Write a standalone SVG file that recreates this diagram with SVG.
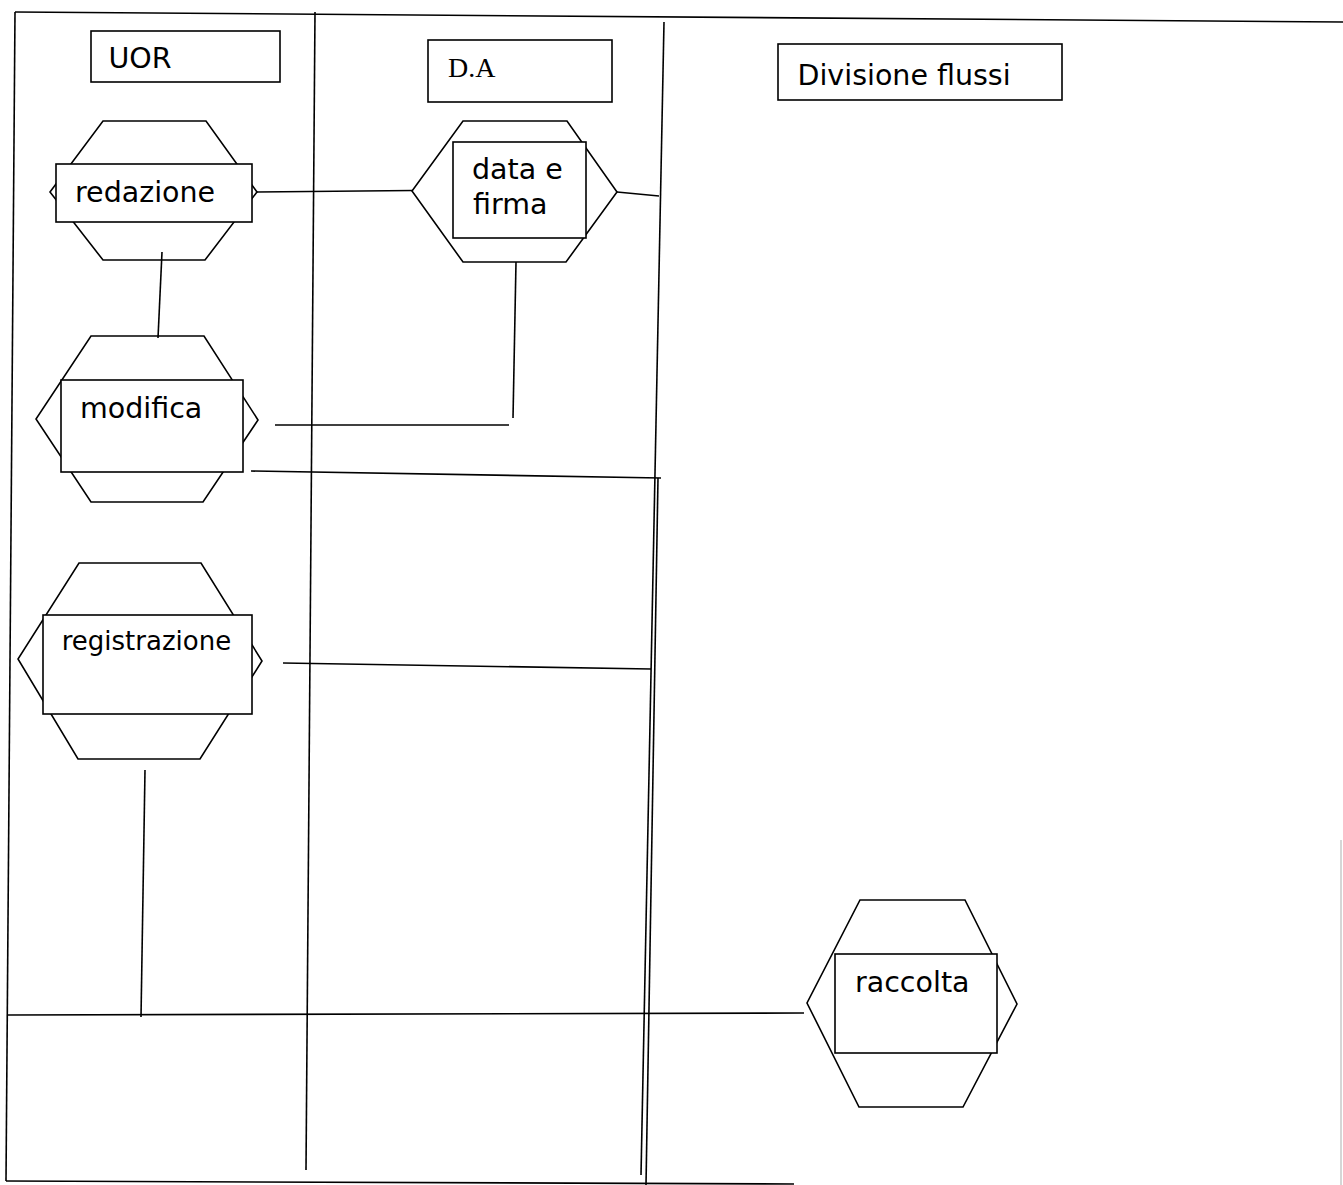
<svg xmlns="http://www.w3.org/2000/svg" width="1343" height="1185" viewBox="0 0 1343 1185">
<style>
  line, polyline { stroke: #000; stroke-width: 1.6; fill: none; }
  .hex { stroke: #000; stroke-width: 1.6; fill: #fff; }
  .box { stroke: #000; stroke-width: 1.6; fill: #fff; }
  .lbl { font-family: "DejaVu Sans", Verdana, sans-serif; font-size: 28.5px; fill: #000; }
  .ser { font-family: "Liberation Serif", "Times New Roman", serif; font-size: 28px; fill: #000; }
</style>
<rect width="1343" height="1185" fill="#fff"/>
<g id="lanes">
  <line x1="15" y1="12" x2="1343" y2="22"/>
  <line x1="15" y1="12" x2="6" y2="1181"/>
  <line x1="6" y1="1181" x2="794" y2="1184"/>
  <line x1="1341" y1="840" x2="1341" y2="1185" style="stroke:#bbb;stroke-width:1.2"/>
  <line x1="315" y1="12" x2="306" y2="1170"/>
  <line x1="664" y1="22" x2="641" y2="1175"/>
  <line x1="658" y1="478" x2="646" y2="1185"/>
  <rect class="box" x="91" y="31" width="189" height="51"/>
  <text class="lbl" x="108.5" y="68.3">UOR</text>
  <rect class="box" x="428" y="40" width="184" height="62"/>
  <text class="ser" x="448" y="77.3">D.A</text>
  <rect class="box" x="778" y="44" width="284" height="56"/>
  <text class="lbl" x="797.5" y="85">Divisione flussi</text>
</g>
<g id="node-redazione">
  <polygon class="hex" points="103,121 206,121 257,192 205,260 103,260 50,192"/>
  <rect class="box" x="56" y="164" width="196" height="58"/>
  <text class="lbl" x="75" y="202.3">redazione</text>
</g>
<g id="node-data-firma">
  <polygon class="hex" points="463,121 567,121 617,192 566,262 463,262 412,191"/>
  <rect class="box" x="453" y="142" width="133" height="96"/>
  <text class="lbl" x="472" y="179.3">data e</text>
  <text class="lbl" x="473" y="214.3">firma</text>
</g>
<g id="node-modifica">
  <polygon class="hex" points="91,336 204,336 258,420 203,502 91,502 36,419"/>
  <rect class="box" x="61" y="380" width="182" height="92"/>
  <text class="lbl" x="80" y="418.3">modifica</text>
</g>
<g id="node-registrazione">
  <polygon class="hex" points="79,563 201,563 262,661 200,759 78,759 18,659"/>
  <rect class="box" x="43" y="615" width="209" height="99"/>
  <text class="lbl" x="61.7" y="650" style="font-size:26px">registrazione</text>
</g>
<g id="node-raccolta">
  <polygon class="hex" points="860,900 965,900 1017,1004 963,1107 859,1107 807,1003"/>
  <rect class="box" x="835" y="954" width="162" height="99"/>
  <text class="lbl" x="855" y="992.3">raccolta</text>
</g>
<g id="connectors">
  <line x1="257" y1="192" x2="413" y2="190.5"/>
  <line x1="617" y1="192" x2="659" y2="196"/>
  <line x1="162" y1="252" x2="158" y2="338"/>
  <line x1="516" y1="262" x2="513" y2="418"/>
  <line x1="275" y1="425" x2="509" y2="425"/>
  <line x1="251" y1="471" x2="661" y2="478"/>
  <line x1="283" y1="663" x2="651" y2="669"/>
  <line x1="145" y1="770" x2="141" y2="1017"/>
  <line x1="8" y1="1015" x2="804" y2="1013"/>
</g>
</svg>
